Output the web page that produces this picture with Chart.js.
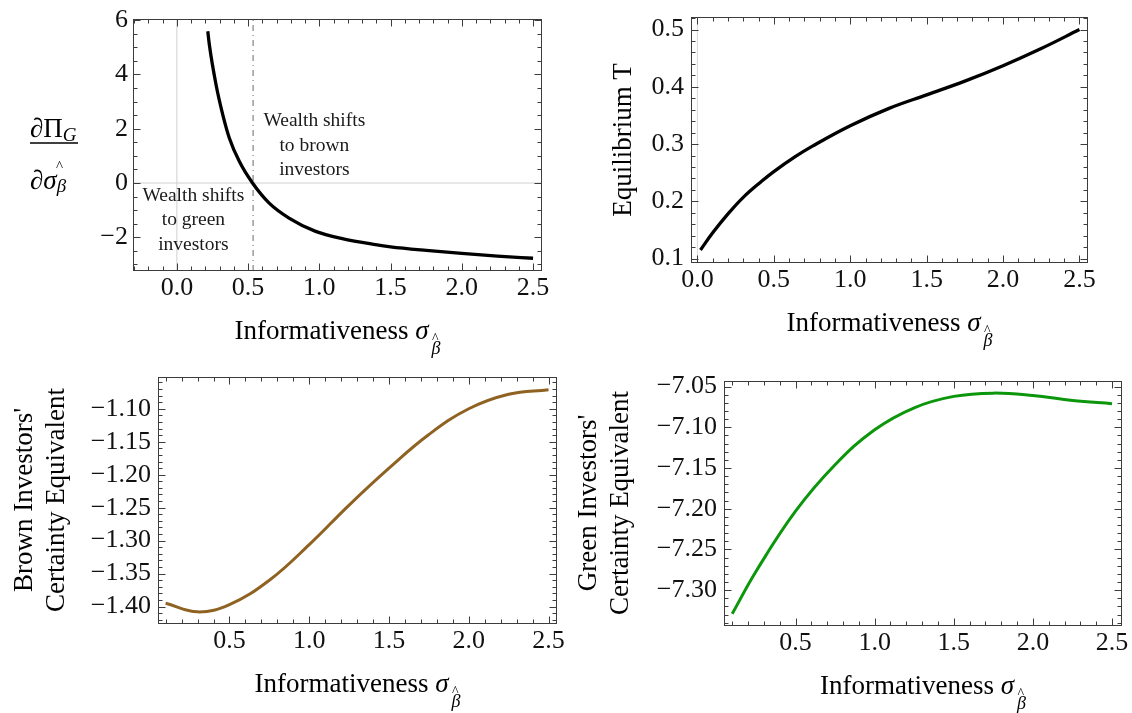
<!DOCTYPE html>
<html lang="en">
<head>
  <meta charset="UTF-8" />
  <title>Informativeness panels</title>
  <script src="https://cdn.jsdelivr.net/npm/chart.js"></script>
  <style>
    html, body { margin: 0; padding: 0; background: #fff; }
    #stage { position: relative; width: 1132px; height: 713px; overflow: hidden; }
    #labels { position: absolute; left: 0; top: 0; pointer-events: none; }
  </style>
</head>
<body>
  <div id="stage">
    <svg id="labels" width="1132" height="713" font-family="Liberation Serif, Times New Roman, serif" fill="#000">
      <!-- top left y label: dPi_G / d sigma_beta -->
      <text x="30" y="137" font-size="27">∂Π<tspan font-style="italic" font-size="19" dy="4">G</tspan></text>
      <line x1="30" y1="143" x2="78" y2="143" stroke="#000" stroke-width="1.3" />
      <text x="56" y="171" font-size="15">^</text>
      <text x="30" y="189" font-size="27">∂<tspan font-style="italic">σ</tspan><tspan font-style="italic" font-size="19" dy="3">β</tspan></text>

      <text transform="translate(631,140) rotate(-90)" text-anchor="middle" font-size="27">Equilibrium T</text>

      <text transform="translate(32,500) rotate(-90)" text-anchor="middle" font-size="27">Brown Investors'</text>
      <text transform="translate(64,500) rotate(-90)" text-anchor="middle" font-size="27">Certainty Equivalent</text>

      <text transform="translate(596,503) rotate(-90)" text-anchor="middle" font-size="27">Green Investors'</text>
      <text transform="translate(628,503) rotate(-90)" text-anchor="middle" font-size="27">Certainty Equivalent</text>
    </svg>
  </div>
  <script>
    // x = informativeness, y = plotted quantity
    const tlX = [0.217, 0.228, 0.275, 0.322, 0.368, 0.438, 0.531, 0.648, 0.787, 0.974, 1.161, 1.394, 1.5, 1.75, 2.0, 2.25, 2.5];
    const tlY = [5.59, 5.09, 3.62, 2.52, 1.66, 0.80, 0.0, -0.74, -1.29, -1.78, -2.05, -2.27, -2.35, -2.48, -2.59, -2.69, -2.77];
    const tlThreshold = 0.535;

    const trX = [0.02, 0.1, 0.2, 0.3, 0.42, 0.5, 0.64, 0.75, 1.0, 1.25, 1.5, 1.75, 2.0, 2.25, 2.5];
    const trY = [0.115, 0.145, 0.178, 0.207, 0.235, 0.252, 0.278, 0.296, 0.332, 0.362, 0.386, 0.41, 0.437, 0.467, 0.5];

    const blX = [0.1, 0.3, 0.5, 0.75, 1.0, 1.25, 1.5, 1.75, 2.0, 2.25, 2.5];
    const blY = [-1.395, -1.408, -1.397, -1.36, -1.306, -1.246, -1.19, -1.139, -1.10, -1.078, -1.071];

    const brX = [0.1, 0.25, 0.5, 0.75, 1.0, 1.25, 1.5, 1.75, 2.0, 2.25, 2.5];
    const brY = [-7.329, -7.277, -7.203, -7.146, -7.103, -7.076, -7.062, -7.058, -7.061, -7.067, -7.071];

    // tick labels
    const xTicksFull = [0, 0.5, 1, 1.5, 2, 2.5];
    const xTicksBottom = [0.5, 1, 1.5, 2, 2.5];
    const tlYTicks = [-2, 0, 2, 4, 6];
    const trYTicks = [0.1, 0.2, 0.3, 0.4, 0.5];
    const blYTicks = [-1.40, -1.35, -1.30, -1.25, -1.20, -1.15, -1.10];
    const brYTicks = [-7.30, -7.25, -7.20, -7.15, -7.10, -7.05];

    const FONT = "'Liberation Serif', 'Times New Roman', serif";
    const YW = 100, XH = 50, M = 30;

    const pts = (xs, ys) => xs.map((x, i) => ({ x: x, y: ys[i] }));
    const minus = s => s.replace('-', '\u2212');

    // mathematica-like frame with inward ticks on all four sides
    function framePlugin(xMinor, yMinor) {
      return {
        id: 'frame',
        afterDraw(chart) {
          const { ctx, chartArea: a, scales: { x, y } } = chart;
          ctx.save();
          ctx.strokeStyle = '#3c3c3c';
          ctx.lineWidth = 1;
          const L = Math.round(a.left) + 0.5, R = Math.round(a.right) - 0.5;
          const T = Math.round(a.top) + 0.5, B = Math.round(a.bottom) - 0.5;
          ctx.strokeRect(L, T, R - L, B - T);
          const majX = x.ticks.map(t => t.value), majY = y.ticks.map(t => t.value);
          const isMaj = (v, arr) => arr.some(m => Math.abs(m - v) < 1e-7);
          ctx.beginPath();
          const xt = (v, len) => {
            const p = Math.round(x.getPixelForValue(v)) + 0.5;
            ctx.moveTo(p, B); ctx.lineTo(p, B - len);
            ctx.moveTo(p, T); ctx.lineTo(p, T + len);
          };
          const yt = (v, len) => {
            const p = Math.round(y.getPixelForValue(v)) + 0.5;
            ctx.moveTo(L, p); ctx.lineTo(L + len, p);
            ctx.moveTo(R, p); ctx.lineTo(R - len, p);
          };
          majX.forEach(v => xt(v, 7));
          majY.forEach(v => yt(v, 7));
          for (let k = Math.ceil(x.min / xMinor - 1e-9); k * xMinor <= x.max; k++) {
            const v = k * xMinor;
            if (!isMaj(v, majX)) xt(v, 4);
          }
          for (let k = Math.ceil(y.min / yMinor - 1e-9); k * yMinor <= y.max; k++) {
            const v = k * yMinor;
            if (!isMaj(v, majY)) yt(v, 4);
          }
          ctx.stroke();
          ctx.restore();
        }
      };
    }

    function notesPlugin(items) {
      return {
        id: 'notes',
        afterDatasetsDraw(chart) {
          const { ctx, scales: { x, y } } = chart;
          ctx.save();
          ctx.font = '19.5px ' + FONT;
          ctx.fillStyle = '#1a1a1a';
          ctx.textAlign = 'center';
          ctx.textBaseline = 'alphabetic';
          items.forEach(it => {
            const px = x.getPixelForValue(it.x), py = y.getPixelForValue(it.y);
            it.lines.forEach((s, i) => ctx.fillText(s, px, py + (i - 1) * 24.5));
          });
          ctx.restore();
        }
      };
    }

    function xTitle(cx, base) {
      const svg = document.getElementById('labels');
      const ns = 'http://www.w3.org/2000/svg';
      const t = document.createElementNS(ns, 'text');
      t.setAttribute('x', cx);
      t.setAttribute('y', base);
      t.setAttribute('text-anchor', 'middle');
      t.setAttribute('font-size', '27');
      t.innerHTML = 'Informativeness <tspan font-style="italic">σ</tspan>' +
        '<tspan font-style="italic" font-size="18" dx="3" dy="15">β</tspan>' +
        '<tspan font-size="14" dx="-8.5" dy="-11">^</tspan>';
      svg.appendChild(t);
    }

    function panel(p) {
      const [l, t, r, b] = p.box;
      const cl = l - M - YW, ct = t - M;
      const cw = r - cl + M, ch = b - ct + M + XH;
      const cv = document.createElement('canvas');
      cv.width = cw; cv.height = ch;
      cv.style.cssText = 'position:absolute;left:' + cl + 'px;top:' + ct + 'px;width:' + cw + 'px;height:' + ch + 'px';
      document.getElementById('stage').insertBefore(cv, document.getElementById('labels'));

      const tickFont = { family: FONT, size: 26 };
      new Chart(cv, {
        type: 'line',
        data: { datasets: p.datasets },
        options: {
          responsive: false,
          animation: false,
          events: [],
          layout: { padding: M },
          plugins: { legend: { display: false }, tooltip: { enabled: false } },
          elements: { point: { radius: 0 }, line: { cubicInterpolationMode: 'default', tension: 0.4 } },
          scales: {
            x: {
              type: 'linear', min: p.xRange[0], max: p.xRange[1],
              grid: { display: false, drawTicks: false }, border: { display: false },
              ticks: { font: tickFont, color: '#111', padding: 2, maxRotation: 0, autoSkip: false,
                callback: v => v.toFixed(1) },
              afterBuildTicks: s => { s.ticks = p.xTicks.map(v => ({ value: v })); },
              afterFit: s => { s.height = XH; }
            },
            y: {
              type: 'linear', min: p.yRange[0], max: p.yRange[1],
              grid: { display: false, drawTicks: false }, border: { display: false },
              ticks: { font: tickFont, color: '#111', padding: p.yPad, autoSkip: false,
                callback: v => minus(v.toFixed(p.yDec)) },
              afterBuildTicks: s => { s.ticks = p.yTicks.map(v => ({ value: v })); },
              afterFit: s => { s.width = YW; }
            }
          }
        },
        plugins: [framePlugin(p.xMinor, p.yMinor), notesPlugin(p.notes || [])]
      });
      xTitle((l + r) / 2, b + 68);
    }

    const curve = (data, color, w, mode) => ({ data: data, borderColor: color, borderWidth: w, fill: false,
      cubicInterpolationMode: mode || 'default', tension: 0.4 });
    const guide = (data, color, dash) => ({ data: data, borderColor: color, borderWidth: 1, borderDash: dash || [], tension: 0 });

    // top left
    const tlXR = [-0.308, 2.563], tlYR = [-3.24, 6.04];
    panel({
      box: [133, 19, 542, 271], xRange: tlXR, yRange: tlYR,
      xTicks: xTicksFull, yTicks: tlYTicks, xMinor: 0.1, yMinor: 0.5, yDec: 0, yPad: 5,
      datasets: [
        curve(pts(tlX, tlY), '#000', 3.3, 'monotone'),
        guide([{ x: tlThreshold, y: tlYR[0] }, { x: tlThreshold, y: tlYR[1] }], '#6a6a6a', [6, 4, 1, 4]),
        guide([{ x: tlXR[0], y: 0 }, { x: tlXR[1], y: 0 }], '#cfcfcf'),
        guide([{ x: 0, y: tlYR[0] }, { x: 0, y: tlYR[1] }], '#cfcfcf')
      ],
      notes: [
        { x: 0.965, y: 1.18, lines: ['Wealth shifts', 'to brown', 'investors'] },
        { x: 0.116, y: -1.55, lines: ['Wealth shifts', 'to green', 'investors'] }
      ]
    });

    // top right
    const trXR = [-0.042, 2.556], trYR = [0.0923, 0.522];
    panel({
      box: [691, 17, 1088, 263], xRange: trXR, yRange: trYR,
      xTicks: xTicksFull, yTicks: trYTicks, xMinor: 0.1, yMinor: 0.02, yDec: 1, yPad: 7,
      datasets: [
        curve(pts(trX, trY), '#000', 3.3),
        guide([{ x: 0, y: trYR[0] }, { x: 0, y: trYR[1] }], '#d8d8d8')
      ]
    });

    // bottom left
    panel({
      box: [158, 377, 557, 624], xRange: [0.052, 2.553], yRange: [-1.4264, -1.0518],
      xTicks: xTicksBottom, yTicks: blYTicks, xMinor: 0.1, yMinor: 0.01, yDec: 2, yPad: 7,
      datasets: [curve(pts(blX, blY), '#8f6222', 3)]
    });

    // bottom right
    panel({
      box: [724, 381, 1122, 626], xRange: [0.048, 2.563], yRange: [-7.344, -7.0431],
      xTicks: xTicksBottom, yTicks: brYTicks, xMinor: 0.1, yMinor: 0.01, yDec: 2, yPad: 7,
      datasets: [curve(pts(brX, brY), '#0b960b', 3)]
    });
  </script>
</body>
</html>
